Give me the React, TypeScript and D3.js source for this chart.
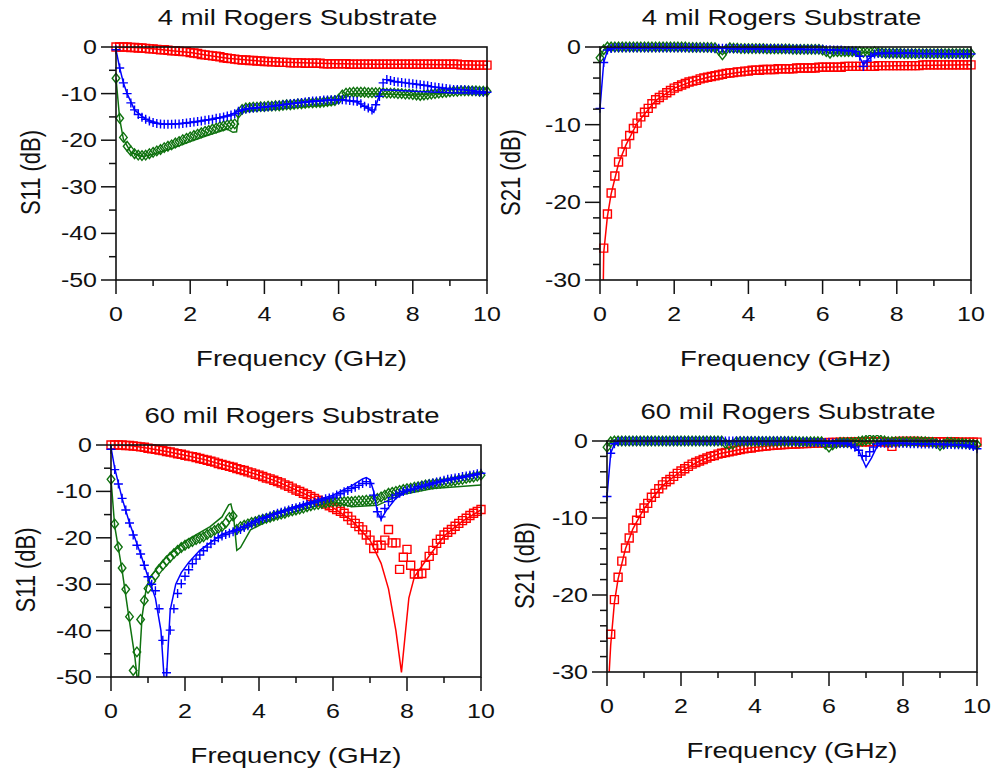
import React from 'react'
import * as d3 from 'd3'

// frequency grid of the measured points (GHz)
const FREQ = [
  0, 0.1, 0.2, 0.3, 0.4, 0.5, 0.6, 0.7, 0.8, 0.9,
  1, 1.1, 1.2, 1.3, 1.4, 1.5, 1.6, 1.7, 1.8, 1.9,
  2, 2.1, 2.2, 2.3, 2.4, 2.5, 2.6, 2.7, 2.8, 2.9,
  3, 3.1, 3.2, 3.3, 3.4, 3.5, 3.6, 3.7, 3.8, 3.9,
  4, 4.1, 4.2, 4.3, 4.4, 4.5, 4.6, 4.7, 4.8, 4.9,
  5, 5.1, 5.2, 5.3, 5.4, 5.5, 5.6, 5.7, 5.8, 5.9,
  6, 6.1, 6.2, 6.3, 6.4, 6.5, 6.6, 6.7, 6.8, 6.9,
  7, 7.1, 7.2, 7.3, 7.4, 7.5, 7.6, 7.7, 7.8, 7.9,
  8, 8.1, 8.2, 8.3, 8.4, 8.5, 8.6, 8.7, 8.8, 8.9,
  9, 9.1, 9.2, 9.3, 9.4, 9.5, 9.6, 9.7, 9.8, 9.9,
  10,
]

// ---- 4 mil, S11 (measured markers) ----
const S11_4_RED = [
  0, 0, 0, 0, -0.1, -0.1, -0.2, -0.2, -0.3, -0.4,
  -0.4, -0.5, -0.6, -0.6, -0.7, -0.8, -0.8, -0.9, -1.0, -1.0,
  -1.2, -1.3, -1.4, -1.6, -1.7, -1.8, -1.9, -2.0, -2.1, -2.3,
  -2.4, -2.5, -2.6, -2.7, -2.8, -2.8, -2.9, -2.9, -3.0, -3.0,
  -3.1, -3.1, -3.2, -3.2, -3.3, -3.3, -3.3, -3.4, -3.4, -3.4,
  -3.4, -3.5, -3.5, -3.5, -3.5, -3.5, -3.6, -3.6, -3.6, -3.6,
  -3.6, -3.6, -3.6, -3.7, -3.7, -3.7, -3.7, -3.7, -3.7, -3.7,
  -3.7, -3.7, -3.7, -3.7, -3.7, -3.7, -3.7, -3.7, -3.7, -3.7,
  -3.7, -3.7, -3.7, -3.7, -3.7, -3.7, -3.7, -3.7, -3.7, -3.7,
  -3.7, -3.7, -3.7, -3.8, -3.8, -3.8, -3.9, -3.9, -3.9, -3.9,
  -3.9,
]
const S11_4_BLUE = [
  -0.6, -4.5, -7.7, -10.0, -12.0, -13.5, -14.5, -15.1, -15.5, -15.9,
  -16.2, -16.4, -16.5, -16.6, -16.6, -16.6, -16.5, -16.5, -16.4, -16.3,
  -16.2, -16.1, -16.0, -15.9, -15.7, -15.6, -15.5, -15.3, -15.2, -15.0,
  -14.8, -14.6, -14.3, -13.8, -13.5, -13.3, -13.2, -13.1, -13.0, -12.9,
  -12.9, -12.8, -12.7, -12.6, -12.5, -12.4, -12.3, -12.2, -12.1, -12.0,
  -11.9, -11.8, -11.7, -11.6, -11.6, -11.5, -11.4, -11.4, -11.3, -11.3,
  -11.3, -11.3, -11.4, -11.5, -11.6, -11.7, -12.2, -12.7, -13.1, -13.5,
  -12.4, -10.6, -7.7, -7.0, -7.2, -7.4, -7.5, -7.6, -7.7, -7.8,
  -7.9, -8.0, -8.1, -8.2, -8.3, -8.5, -8.6, -8.7, -8.8, -8.9,
  -9.0, -9.1, -9.1, -9.2, -9.2, -9.3, -9.4, -9.5, -9.6, -9.6,
  -9.7,
]
const S11_4_GREEN = [
  -6.7, -15.3, -19.4, -21.3, -22.3, -22.9, -23.2, -23.3, -23.2, -22.9,
  -22.6, -22.3, -22.0, -21.6, -21.3, -21.0, -20.6, -20.3, -19.9, -19.6,
  -19.3, -19.0, -18.7, -18.4, -18.1, -17.9, -17.6, -17.4, -17.1, -16.9,
  -16.7, -16.6, -16.5, -14.2, -13.4, -13.1, -13.0, -12.9, -12.9, -12.8,
  -12.8, -12.7, -12.7, -12.6, -12.6, -12.5, -12.4, -12.4, -12.3, -12.2,
  -12.2, -12.1, -12.0, -12.0, -11.9, -11.9, -11.8, -11.7, -11.6, -11.5,
  -11.2, -10.3, -9.9, -9.8, -9.7, -9.7, -9.7, -9.7, -9.8, -9.8,
  -9.8, -9.8, -9.8, -9.9, -9.9, -9.9, -10.0, -10.0, -10.1, -10.1,
  -10.2, -10.3, -10.4, -10.3, -10.2, -10.1, -10.0, -9.9, -9.8, -9.7,
  -9.6, -9.5, -9.5, -9.4, -9.4, -9.4, -9.4, -9.4, -9.5, -9.5,
  -9.5,
]
// ---- 4 mil, S11 (simulated lines) ----
const S11_4_RED_SIM: [number, number][] = [
  [0, 0], [0.5, -0.1], [1, -0.4], [1.5, -0.8], [2, -1.2], [2.5, -1.8], [3, -2.4],
  [4, -3.1], [5, -3.4], [6, -3.6], [7, -3.7], [8, -3.7], [9, -3.8], [10, -3.9],
]
const S11_4_BLUE_SIM: [number, number][] = [
  [0, -0.6], [0.1, -4.5], [0.2, -7.7], [0.3, -10], [0.5, -13.5], [0.8, -15.5], [1.2, -16.5],
  [1.6, -16.5], [2, -16.2], [2.5, -15.6], [3, -14.8], [3.3, -13.8], [3.5, -13.3], [4, -12.9],
  [5, -11.9], [6, -11.3], [6.5, -11.8], [6.8, -13.2], [6.95, -14.0], [7.05, -11.5],
  [7.15, -9.2], [7.5, -9.3], [8, -9.5], [9, -9.8], [10, -9.9],
]
const S11_4_GREEN_SIM: [number, number][] = [
  [0, -6.7], [0.1, -15.5], [0.2, -19.8], [0.4, -22.6], [0.7, -23.5], [1, -23], [1.5, -21.8],
  [2, -20.3], [2.5, -18.9], [3, -17.6], [3.15, -18.3], [3.25, -18.2], [3.3, -14.5], [3.4, -13.8],
  [4, -13.5], [5, -12.9], [5.9, -12.3], [6.1, -10.5], [6.3, -10.1], [7, -10], [8, -10.3],
  [9, -9.8], [10, -9.6],
]

// ---- 4 mil, S21 ----
const S21_4_RED = [
  -40, -25.9, -21.5, -18.8, -16.6, -14.8, -13.5, -12.5, -11.4, -10.5,
  -9.8, -9.0, -8.4, -7.9, -7.3, -6.8, -6.5, -6.2, -5.9, -5.6,
  -5.3, -5.1, -4.9, -4.7, -4.5, -4.4, -4.3, -4.1, -4.0, -3.9,
  -3.8, -3.7, -3.6, -3.5, -3.4, -3.35, -3.3, -3.2, -3.2, -3.1,
  -3.1, -3.0, -3.0, -3.0, -2.9, -2.9, -2.9, -2.9, -2.8, -2.8,
  -2.8, -2.8, -2.8, -2.7, -2.7, -2.7, -2.7, -2.7, -2.7, -2.6,
  -2.6, -2.6, -2.6, -2.6, -2.6, -2.6, -2.5, -2.5, -2.5, -2.5,
  -2.5, -2.5, -2.5, -2.5, -2.5, -2.4, -2.4, -2.4, -2.4, -2.4,
  -2.4, -2.4, -2.4, -2.4, -2.4, -2.4, -2.4, -2.3, -2.3, -2.3,
  -2.3, -2.3, -2.3, -2.3, -2.3, -2.3, -2.3, -2.3, -2.3, -2.3,
  -2.3,
]
const S21_4_BLUE = [
  -7.9, -2.0, -0.4, -0.2, -0.1, -0.1, -0.1, -0.1, -0.1, -0.1,
  -0.1, -0.1, -0.1, -0.1, -0.1, -0.1, -0.1, -0.1, -0.1, -0.1,
  -0.1, -0.1, -0.1, -0.1, -0.1, -0.1, -0.1, -0.1, -0.1, -0.1,
  -0.15, -0.15, -0.15, -0.15, -0.15, -0.2, -0.2, -0.2, -0.2, -0.2,
  -0.2, -0.2, -0.2, -0.2, -0.2, -0.2, -0.2, -0.2, -0.2, -0.2,
  -0.25, -0.25, -0.25, -0.25, -0.25, -0.3, -0.3, -0.3, -0.3, -0.3,
  -0.3, -0.35, -0.35, -0.4, -0.4, -0.4, -0.45, -0.45, -0.5, -0.6,
  -1.2, -2.5, -1.8, -1.2, -0.9, -0.8, -0.8, -0.8, -0.8, -0.8,
  -0.8, -0.8, -0.8, -0.8, -0.8, -0.85, -0.85, -0.85, -0.85, -0.85,
  -0.85, -0.85, -0.85, -0.9, -0.9, -0.9, -0.9, -0.9, -0.9, -0.9,
  -0.9,
]
const S21_4_GREEN = [
  -1.4, -0.35, 0, 0, 0, 0, 0, 0, 0, 0,
  0, 0, 0, 0, 0, 0, 0, 0, 0, 0,
  0, 0, 0, 0, -0.05, -0.05, -0.05, -0.05, -0.05, -0.05,
  -0.05, -0.1, -0.4, -1.0, -0.3, -0.1, -0.15, -0.15, -0.2, -0.2,
  -0.2, -0.2, -0.2, -0.2, -0.2, -0.25, -0.25, -0.25, -0.25, -0.25,
  -0.25, -0.25, -0.3, -0.3, -0.3, -0.3, -0.3, -0.3, -0.3, -0.3,
  -0.4, -0.6, -0.8, -0.6, -0.6, -0.6, -0.6, -0.6, -0.6, -0.6,
  -0.6, -0.7, -0.7, -0.7, -0.6, -0.7, -0.75, -0.8, -0.8, -0.8,
  -0.8, -0.8, -0.85, -0.85, -0.85, -0.85, -0.85, -0.85, -0.85, -0.85,
  -0.85, -0.85, -0.85, -0.85, -0.85, -0.85, -0.85, -0.85, -0.85, -0.85,
  -0.85,
]
const S21_4_RED_SIM: [number, number][] = [
  [0.05, -40], [0.09, -30], [0.1, -26.5], [0.2, -21.8], [0.3, -18.9], [0.5, -15], [0.7, -12.6],
  [1, -9.8], [1.5, -6.9], [2, -5.3], [2.5, -4.4], [3, -3.8], [4, -3.1], [5, -2.8],
  [6, -2.6], [7, -2.5], [8, -2.4], [10, -2.3],
]
const S21_4_BLUE_SIM: [number, number][] = [
  [0, -7.9], [0.1, -2], [0.2, -0.5], [0.4, -0.1], [3, -0.15], [6, -0.35], [6.8, -0.5],
  [7.0, -1.3], [7.1, -2.3], [7.25, -1.5], [7.4, -0.9], [8, -0.8], [10, -0.9],
]
const S21_4_GREEN_SIM: [number, number][] = [
  [0, -1.4], [0.1, -0.35], [0.2, 0], [2.3, 0], [3.1, -0.1], [3.3, -1.0], [3.45, -0.2],
  [4, -0.2], [6, -0.4], [6.2, -0.8], [6.4, -0.6], [7.5, -0.7], [8.2, -0.85], [10, -0.85],
]

// ---- 60 mil, S11 ----
const S11_60_RED = [
  0, 0, 0, 0, -0.1, -0.1, -0.2, -0.3, -0.4, -0.5,
  -0.7, -0.8, -0.9, -1.1, -1.2, -1.4, -1.5, -1.7, -1.9, -2.0,
  -2.2, -2.4, -2.5, -2.7, -2.9, -3.1, -3.3, -3.5, -3.7, -4.0,
  -4.2, -4.4, -4.6, -4.8, -5.1, -5.3, -5.5, -5.8, -6.0, -6.3,
  -6.5, -6.8, -7.1, -7.3, -7.6, -7.9, -8.2, -8.6, -8.9, -9.3,
  -9.7, -10.0, -10.4, -10.7, -11.1, -11.5, -11.9, -12.3, -12.7, -13.1,
  -13.5, -13.9, -14.3, -14.7, -15.4, -16.2, -16.9, -17.6, -18.3, -19.4,
  -20.5, -22.3, -21.6, -21.6, -20.5, -18.2, -21.1, -21.1, -26.8, -24.2,
  -22.5, -25.9, -27.8, -27.8, -27.7, -25.9, -24.0, -22.7, -21.2, -20.3,
  -19.4, -18.8, -18.2, -17.5, -16.9, -16.3, -15.8, -15.2, -14.7, -14.3,
  -13.9,
]
const S11_60_BLUE = [
  -0.9, -5.3, -8.4, -11.5, -14.0, -16.8, -19.4, -21.6, -23.5, -25.9,
  -28.4, -30.0, -31.4, -35.3, -42.1, -49.1, -39.9, -35.3, -32.0, -29.9,
  -28.3, -26.9, -25.6, -24.6, -23.7, -22.8, -22.0, -21.3, -20.6, -20.0,
  -19.6, -19.3, -19.0, -18.7, -18.4, -18.2, -17.8, -17.4, -17.0, -16.6,
  -16.2, -15.9, -15.6, -15.3, -15.0, -14.7, -14.5, -14.2, -14.0, -13.7,
  -13.5, -13.3, -13.0, -12.8, -12.6, -12.4, -12.1, -11.9, -11.6, -11.4,
  -11.2, -10.8, -10.5, -10.1, -9.8, -9.4, -9.1, -8.7, -8.3, -7.9,
  -8.3, -10.8, -14.4, -15.5, -13.7, -12.2, -11.4, -10.8, -10.4, -10.0,
  -9.7, -9.5, -9.3, -9.0, -8.8, -8.6, -8.4, -8.2, -8.0, -7.8,
  -7.6, -7.4, -7.3, -7.1, -7.0, -6.8, -6.7, -6.5, -6.4, -6.2,
  -6.1,
]
const S11_60_GREEN = [
  -7.4, -17.0, -22.0, -26.5, -31.1, -37.0, -48.6, -44.6, -37.6, -33.5,
  -30.9, -29.3, -28.1, -26.8, -25.9, -25.0, -24.2, -23.4, -22.7, -22.1,
  -21.6, -21.2, -20.8, -20.4, -20.1, -19.8, -19.3, -18.9, -18.4, -18.0,
  -17.6, -16.8, -15.6, -15.3, -18.2, -17.6, -17.3, -17.0, -16.7, -16.5,
  -16.2, -16.0, -15.8, -15.6, -15.3, -15.1, -14.9, -14.7, -14.4, -14.2,
  -14.0, -13.8, -13.6, -13.3, -13.1, -12.9, -12.8, -12.6, -12.5, -12.3,
  -12.2, -12.2, -12.2, -12.2, -12.2, -12.2, -12.1, -12.0, -12.0, -11.9,
  -11.9, -11.7, -11.5, -11.2, -10.8, -10.4, -10.2, -10.0, -9.8, -9.6,
  -9.4, -9.3, -9.1, -9.0, -8.8, -8.6, -8.5, -8.4, -8.3, -8.2,
  -8.1, -8.0, -7.8, -7.7, -7.5, -7.4, -7.2, -7.0, -6.9, -6.7,
  -6.5,
]
const S11_60_RED_SIM: [number, number][] = [
  [0, 0], [0.5, -0.1], [1, -0.7], [1.5, -1.4], [2, -2.2], [2.5, -3.1], [3, -4.2], [3.5, -5.3],
  [4, -6.5], [4.5, -7.9], [5, -9.7], [5.5, -11.5], [6, -13.5], [6.5, -16.2], [7, -20.5],
  [7.3, -25.5], [7.5, -31], [7.7, -40], [7.85, -49], [7.95, -41], [8.05, -33], [8.2, -28.4],
  [8.5, -25], [9, -19.6], [9.5, -16.4], [10, -14],
]
const S11_60_BLUE_SIM: [number, number][] = [
  [0, -0.5], [0.1, -5], [0.3, -11.5], [0.5, -16.8], [0.8, -23.5], [1.0, -28.4], [1.2, -33],
  [1.35, -40], [1.45, -52], [1.5, -50], [1.6, -35.6], [1.75, -30], [1.9, -27.5], [2.1, -25.3],
  [2.4, -22.7], [3, -19.2], [3.5, -17.8], [4, -15.9], [5, -13.2], [6, -10.8], [6.5, -8.8],
  [6.8, -7.3], [6.9, -7.0], [7.0, -7.5], [7.1, -10], [7.2, -14.5], [7.3, -16], [7.45, -14],
  [7.7, -11.5], [8, -10], [9, -7.8], [10, -6.3],
]
const S11_60_GREEN_SIM: [number, number][] = [
  [0, -7.4], [0.1, -17.5], [0.3, -27], [0.5, -38], [0.65, -46], [0.73, -52], [0.78, -45],
  [0.84, -37], [0.95, -31], [1.06, -28.4], [1.5, -24.1], [2.05, -20.5], [2.68, -17.6],
  [3.0, -15.5], [3.18, -12.9], [3.24, -12.7], [3.31, -15.1], [3.4, -22.7], [3.5, -22.1],
  [3.77, -18.3], [4.2, -16.5], [5.1, -14], [6, -12.2], [6.5, -13.3], [7.2, -13.0],
  [7.8, -10.8], [8.7, -9.4], [10, -8.6],
]

// ---- 60 mil, S21 ----
const S21_60_RED = [
  -40, -25.1, -20.6, -17.7, -15.6, -13.9, -12.6, -11.3, -10.3, -9.4,
  -8.7, -8.1, -7.3, -6.8, -6.2, -5.7, -5.3, -5.0, -4.6, -4.2,
  -3.9, -3.6, -3.3, -3.0, -2.8, -2.6, -2.4, -2.2, -2.0, -1.9,
  -1.7, -1.6, -1.5, -1.4, -1.3, -1.2, -1.1, -1.0, -0.95, -0.9,
  -0.8, -0.75, -0.7, -0.65, -0.6, -0.56, -0.52, -0.5, -0.46, -0.43,
  -0.4, -0.38, -0.36, -0.34, -0.32, -0.3, -0.28, -0.26, -0.24, -0.22,
  -0.2, -0.2, -0.18, -0.16, -0.15, -0.14, -0.13, -0.12, -0.11, -0.1,
  -0.1, -0.1, -0.1, -0.1, -0.1, -0.1, -0.2, -0.7, -0.1, -0.05,
  -0.05, -0.05, -0.05, -0.05, -0.05, -0.1, -0.1, -0.1, -0.1, -0.1,
  -0.1, -0.1, -0.1, -0.1, -0.1, -0.15, -0.15, -0.15, -0.15, -0.15,
  -0.15,
]
const S21_60_BLUE = [
  -7.2, -1.6, -0.35, -0.05, 0, 0, 0, 0, 0, 0,
  0, 0, 0, 0, 0, 0, 0, 0, 0, 0,
  0, 0, 0, 0, 0, 0, 0, 0, 0, 0,
  0, 0, 0, 0, 0, 0, 0, 0, 0, 0,
  0, 0, 0, 0, 0, 0, 0, 0, 0, 0,
  -0.05, -0.05, -0.1, -0.1, -0.1, -0.15, -0.15, -0.2, -0.2, -0.2,
  -0.2, -0.25, -0.25, -0.3, -0.3, -0.3, -0.5, -0.8, -1.2, -1.9,
  -2.0, -1.4, -0.8, -0.4, -0.3, -0.3, -0.3, -0.3, -0.3, -0.3,
  -0.3, -0.3, -0.35, -0.35, -0.35, -0.4, -0.4, -0.4, -0.4, -0.4,
  -0.4, -0.45, -0.45, -0.45, -0.5, -0.5, -0.5, -0.5, -0.6, -0.7,
  -1.0,
]
const S21_60_GREEN = [
  -0.8, -0.1, 0, 0, 0, 0, 0, 0, 0, 0,
  0, 0, 0, 0, 0, 0, 0, 0, 0, 0,
  0, 0, 0, 0, 0, 0, 0, 0, 0, 0,
  0, 0, -0.3, -0.5, -0.4, -0.1, -0.05, -0.05, -0.05, -0.05,
  -0.05, -0.05, -0.05, -0.05, -0.05, -0.05, -0.05, -0.05, -0.05, -0.05,
  -0.05, -0.05, -0.1, -0.1, -0.1, -0.1, -0.1, -0.1, -0.1, -0.4,
  -0.8, -0.5, -0.3, -0.2, -0.2, -0.2, -0.2, -0.2, -0.1, 0,
  0.1, 0.2, 0.1, 0.2, 0.1, 0, -0.1, -0.1, -0.1, -0.1,
  -0.1, -0.1, -0.1, -0.1, -0.1, -0.1, -0.1, -0.15, -0.2, -0.3,
  -0.6, -0.4, -0.2, -0.2, -0.25, -0.3, -0.3, -0.35, -0.4, -0.45,
  -0.5,
]
const S21_60_RED_SIM: [number, number][] = [
  [0.03, -40], [0.06, -30], [0.1, -26.5], [0.2, -21], [0.3, -17.9], [0.5, -14], [0.7, -11.4],
  [1, -8.8], [1.5, -5.8], [2, -3.9], [2.5, -2.6], [3, -1.7], [3.5, -1.2], [4, -0.8],
  [5, -0.4], [6, -0.2], [7, -0.05], [8, 0], [9, -0.05], [10, -0.1],
]
const S21_60_BLUE_SIM: [number, number][] = [
  [0, -7.2], [0.1, -1.6], [0.2, -0.4], [0.35, 0], [5, -0.1], [6.5, -0.4], [6.8, -1.2],
  [7.0, -3.4], [7.15, -2.2], [7.3, -0.7], [7.5, -0.3], [9.5, -0.5], [10, -1.0],
]
const S21_60_GREEN_SIM: [number, number][] = [
  [0, -0.8], [0.1, -0.1], [0.2, 0], [3.1, 0], [3.3, -0.5], [3.5, -0.1], [5.8, -0.1],
  [6.0, -0.8], [6.2, -0.3], [7, 0.1], [7.5, 0], [8.8, -0.2], [9.0, -0.6], [9.2, -0.2],
  [10, -0.5],
]

const RED = '#ff0000'
const BLUE = '#0000ff'
const GREEN = '#0f720f'
const FONT = 'Liberation Sans, Arial, Helvetica, sans-serif'
const SX = 1.25 // text in the original is drawn wide

type Marker = 'square' | 'plus' | 'diamond'
type Series = { color: string; marker: Marker; meas: number[]; sim: [number, number][] }
type PanelDef = {
  title: string
  yLabel: string
  yMin: number
  yMinor: number
  left: number
  top: number
  right: number
  bottom: number
  labelX: number
  series: Series[]
}

const PANELS: PanelDef[] = [
  {
    title: '4 mil Rogers Substrate', yLabel: 'S11 (dB)', yMin: -50, yMinor: 5,
    left: 116, top: 47, right: 487, bottom: 280, labelX: 30,
    series: [
      { color: RED, marker: 'square', meas: S11_4_RED, sim: S11_4_RED_SIM },
      { color: GREEN, marker: 'diamond', meas: S11_4_GREEN, sim: S11_4_GREEN_SIM },
      { color: BLUE, marker: 'plus', meas: S11_4_BLUE, sim: S11_4_BLUE_SIM },
    ],
  },
  {
    title: '4 mil Rogers Substrate', yLabel: 'S21 (dB)', yMin: -30, yMinor: 2,
    left: 600, top: 47, right: 971, bottom: 280, labelX: 510,
    series: [
      { color: RED, marker: 'square', meas: S21_4_RED, sim: S21_4_RED_SIM },
      { color: GREEN, marker: 'diamond', meas: S21_4_GREEN, sim: S21_4_GREEN_SIM },
      { color: BLUE, marker: 'plus', meas: S21_4_BLUE, sim: S21_4_BLUE_SIM },
    ],
  },
  {
    title: '60 mil Rogers Substrate', yLabel: 'S11 (dB)', yMin: -50, yMinor: 5,
    left: 111, top: 445, right: 481, bottom: 677, labelX: 25,
    series: [
      { color: RED, marker: 'square', meas: S11_60_RED, sim: S11_60_RED_SIM },
      { color: GREEN, marker: 'diamond', meas: S11_60_GREEN, sim: S11_60_GREEN_SIM },
      { color: BLUE, marker: 'plus', meas: S11_60_BLUE, sim: S11_60_BLUE_SIM },
    ],
  },
  {
    title: '60 mil Rogers Substrate', yLabel: 'S21 (dB)', yMin: -30, yMinor: 2,
    left: 607, top: 441, right: 977, bottom: 672, labelX: 524,
    series: [
      { color: RED, marker: 'square', meas: S21_60_RED, sim: S21_60_RED_SIM },
      { color: GREEN, marker: 'diamond', meas: S21_60_GREEN, sim: S21_60_GREEN_SIM },
      { color: BLUE, marker: 'plus', meas: S21_60_BLUE, sim: S21_60_BLUE_SIM },
    ],
  },
]

function Txt({ x, y, size, anchor = 'middle', rotate = false, dy, children }: any) {
  const tf = `translate(${x},${y}) scale(${SX},1)` + (rotate ? ' rotate(-90)' : '')
  return (
    <text transform={tf} textAnchor={anchor} dy={dy} fontSize={size} fontFamily={FONT} fill="#111">
      {children}
    </text>
  )
}

function markerPath(m: Marker) {
  if (m === 'plus') return 'M-4.5,0H4.5M0,-4.5V4.5'
  if (m === 'diamond') return 'M0,-4.8L3.8,0L0,4.8L-3.8,0Z'
  return 'M-4,-4H4V4H-4Z'
}

function Panel({ p, idx }: { p: PanelDef; idx: number }) {
  const x = d3.scaleLinear().domain([0, 10]).range([p.left, p.right])
  const y = d3.scaleLinear().domain([p.yMin, 0]).range([p.bottom, p.top])
  const line = d3.line<[number, number]>().x(d => x(d[0])).y(d => y(d[1]))

  const xMajor = x.ticks(5)
  const xMinor = x.ticks(10).filter(t => !xMajor.includes(t))
  const yMajor = d3.range(p.yMin, 0.001, 10)
  const yMinor = d3.range(p.yMin, 0.001, p.yMinor).filter(t => !yMajor.includes(t))
  const cx = (p.left + p.right) / 2

  return (
    <g>
      <defs>
        <clipPath id={`lc${idx}`}>
          <rect x={p.left} y={p.top} width={p.right - p.left} height={p.bottom - p.top} />
        </clipPath>
        <clipPath id={`mc${idx}`}>
          <rect x={p.left - 6} y={p.top - 6} width={p.right - p.left + 12} height={p.bottom - p.top + 12} />
        </clipPath>
      </defs>

      {p.series.map((s, si) => (
        <g key={si}>
          <path d={line(s.sim) || ''} fill="none" stroke={s.color} strokeWidth={1.5}
            clipPath={`url(#lc${idx})`} />
          <g clipPath={`url(#mc${idx})`}>
            {FREQ.map((f, i) => (
              <path key={i} d={markerPath(s.marker)}
                transform={`translate(${x(f)},${y(s.meas[i])})`}
                fill="none" stroke={s.color} strokeWidth={1.4} />
            ))}
          </g>
        </g>
      ))}

      {/* frame */}
      <rect x={p.left} y={p.top} width={p.right - p.left} height={p.bottom - p.top}
        fill="none" stroke="#111" strokeWidth={1.6} />

      {/* y ticks */}
      {yMajor.map(t => (
        <g key={'ym' + t}>
          <line x1={p.left - 15} x2={p.left} y1={y(t)} y2={y(t)} stroke="#111" strokeWidth={1.5} />
          <Txt x={p.left - 19} y={y(t)} size={20} anchor="end" dy="0.35em">{t}</Txt>
        </g>
      ))}
      {yMinor.map(t => (
        <line key={'yn' + t} x1={p.left - 7} x2={p.left} y1={y(t)} y2={y(t)} stroke="#111" strokeWidth={1.5} />
      ))}

      {/* x ticks */}
      {xMajor.map(t => (
        <g key={'xm' + t}>
          <line x1={x(t)} x2={x(t)} y1={p.bottom} y2={p.bottom + 14} stroke="#111" strokeWidth={1.5} />
          <Txt x={x(t)} y={p.bottom + 41} size={20}>{t}</Txt>
        </g>
      ))}
      {xMinor.map(t => (
        <line key={'xn' + t} x1={x(t)} x2={x(t)} y1={p.bottom} y2={p.bottom + 6} stroke="#111" strokeWidth={1.5} />
      ))}

      <Txt x={cx - 4} y={p.top - 22} size={22}>{p.title}</Txt>
      <Txt x={cx} y={p.bottom + 86} size={22}>Frequency (GHz)</Txt>
      <Txt x={p.labelX} y={(p.top + p.bottom) / 2 + 9} size={22} rotate dy="0.36em">{p.yLabel}</Txt>
    </g>
  )
}

export default function App() {
  return (
    <svg width={995} height={771} style={{ position: 'absolute', left: 0, top: 0, background: '#fff' }}>
      <rect width={995} height={771} fill="#fff" />
      {PANELS.map((p, i) => <Panel key={i} p={p} idx={i} />)}
    </svg>
  )
}
